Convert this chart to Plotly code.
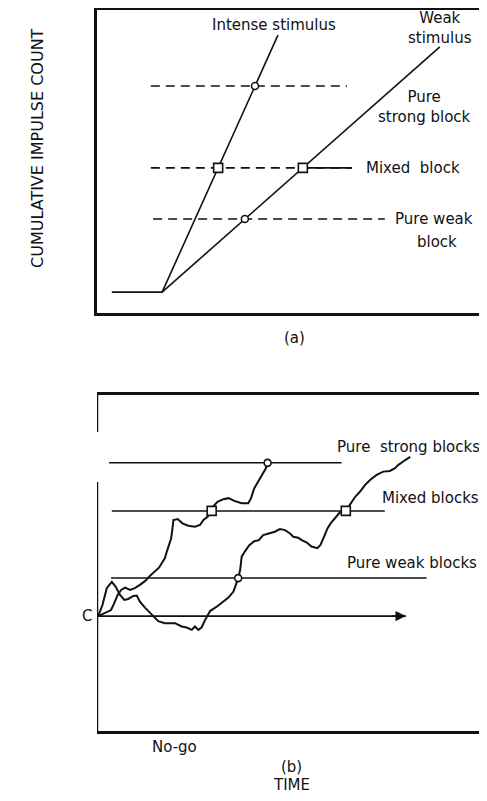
import numpy as np
import plotly.graph_objects as go

# ---- panel (a): idealised counters (time, count) ----
intense_x = [0.38, 1.67, 4.64]
intense_y = [0.69, 0.69, 9.17]
weak_x = [1.67, 8.79]
weak_y = [0.69, 8.78]

# pure strong, mixed, pure weak criterion levels and dashed extents
levels_a = [7.49, 4.79, 3.10]
starts_a = [1.38, 1.38, 1.44]
ends_a = [6.41, 6.54, 7.38]

# ---- panel (b): noisy counters ----
c_level = 3.42
arrow_end = 7.92
levels_b = [7.98, 6.55, 4.55]
starts_b = [0.31, 0.38, 0.36]
ends_b = [6.27, 7.38, 8.45]

fast_x = [0.03, 0.21, 0.36, 0.44, 0.53, 0.62, 0.72, 0.85, 0.97, 1.10, 1.23, 1.36, 1.49,
          1.59, 1.66, 1.74, 1.79, 1.85, 1.90, 1.93, 1.96, 2.07, 2.19, 2.34, 2.51, 2.64,
          2.73, 2.84, 2.94, 3.00, 3.09, 3.24, 3.37, 3.52, 3.71, 3.88, 3.95, 4.03, 4.14,
          4.25, 4.33, 4.38]
fast_y = [3.42, 3.53, 3.60, 3.80, 4.05, 4.20, 4.27, 4.20, 4.25, 4.35, 4.46, 4.62, 4.74,
          4.86, 4.99, 5.14, 5.34, 5.54, 5.73, 5.98, 6.28, 6.31, 6.18, 6.11, 6.08, 6.13,
          6.28, 6.38, 6.55, 6.71, 6.82, 6.90, 6.93, 6.85, 6.78, 6.78, 6.93, 7.22, 7.44,
          7.62, 7.82, 8.00]

slow_x = [0.03, 0.14, 0.25, 0.38, 0.48, 0.59, 0.70, 0.80, 0.93, 1.02, 1.10, 1.23, 1.40,
          1.57, 1.74, 2.00, 2.17, 2.30, 2.43, 2.51, 2.60, 2.68, 2.77, 2.90, 3.07, 3.24,
          3.37, 3.50, 3.58, 3.62, 3.67, 3.71, 3.79, 3.90, 4.03, 4.15, 4.26, 4.39, 4.56,
          4.69, 4.82, 4.95, 5.03, 5.16, 5.25, 5.38, 5.50, 5.65, 5.73, 5.82, 5.91, 5.99,
          6.10, 6.23, 6.38, 6.49, 6.62, 6.74, 6.87, 7.00, 7.17, 7.34, 7.51, 7.64, 7.73,
          7.85, 8.03]
slow_y = [3.42, 3.75, 4.25, 4.44, 4.29, 4.05, 3.90, 3.93, 4.02, 4.03, 3.85, 3.67, 3.47,
          3.27, 3.21, 3.21, 3.11, 3.08, 3.01, 3.11, 3.01, 3.08, 3.30, 3.57, 3.70, 3.85,
          3.97, 4.15, 4.40, 4.55, 4.79, 5.19, 5.34, 5.52, 5.65, 5.68, 5.83, 5.88, 5.93,
          6.01, 5.98, 5.88, 5.78, 5.75, 5.68, 5.61, 5.49, 5.44, 5.54, 5.78, 6.03, 6.18,
          6.33, 6.51, 6.55, 6.73, 6.97, 7.12, 7.32, 7.47, 7.62, 7.72, 7.74, 7.82, 7.92,
          8.02, 8.16]


def crossing(xs, ys, level):
    # first time the counter reaches the level
    for i in range(1, len(xs)):
        if ys[i] >= level > ys[i - 1]:
            f = (level - ys[i - 1]) / (ys[i] - ys[i - 1])
            return xs[i - 1] + f * (xs[i] - xs[i - 1])
    return xs[-1]


FONT = 'DejaVu Sans'
INK = '#111111'
# page body keeps an 8px margin, so the figure is drawn slightly smaller
OFF = 8
W, H = 487 - 2 * OFF, 801 - 2 * OFF


def px(x):
    return (x - OFF) / W


def py(y):
    return 1 - (y - OFF) / H


fig = go.Figure()


def line(x, y, xa, ya, width=1.6, dash='solid'):
    fig.add_trace(go.Scatter(x=x, y=y, mode='lines', xaxis=xa, yaxis=ya, cliponaxis=False,
                             line=dict(color=INK, width=width, dash=dash),
                             showlegend=False, hoverinfo='skip'))


def marks(x, y, symbol, size, xa, ya):
    fig.add_trace(go.Scatter(x=x, y=y, mode='markers', xaxis=xa, yaxis=ya, cliponaxis=False,
                             marker=dict(symbol=symbol, size=size, color='white',
                                         line=dict(color=INK, width=1.6)),
                             showlegend=False, hoverinfo='skip'))


# panel (a)
for lv, s, e in zip(levels_a, starts_a, ends_a):
    line([s, e], [lv, lv], 'x', 'y', width=1.6, dash='9px,6px')
weak_cross_mixed = float(np.interp(levels_a[1], weak_y, weak_x))
line([weak_cross_mixed, ends_a[1]], [levels_a[1], levels_a[1]], 'x', 'y', width=1.6)
line(intense_x, intense_y, 'x', 'y', width=1.6)
line(weak_x, weak_y, 'x', 'y', width=1.6)

marks([crossing(intense_x, intense_y, levels_a[0]), crossing(weak_x, weak_y, levels_a[2])],
      [levels_a[0], levels_a[2]], 'circle', 7, 'x', 'y')
marks([crossing(intense_x, intense_y, levels_a[1]), weak_cross_mixed],
      [levels_a[1], levels_a[1]], 'square', 9, 'x', 'y')

# panel (b)
for lv, s, e in zip(levels_b, starts_b, ends_b):
    line([s, e], [lv, lv], 'x2', 'y2', width=1.5)
line([0, arrow_end], [c_level, c_level], 'x2', 'y2', width=1.6)
line(fast_x, fast_y, 'x2', 'y2', width=2)
line(slow_x, slow_y, 'x2', 'y2', width=2)

marks([crossing(fast_x, fast_y, levels_b[0]), crossing(slow_x, slow_y, levels_b[2])],
      [levels_b[0], levels_b[2]], 'circle', 7, 'x2', 'y2')
marks([crossing(fast_x, fast_y, levels_b[1]), crossing(slow_x, slow_y, levels_b[1])],
      [levels_b[1], levels_b[1]], 'square', 9, 'x2', 'y2')


def label(text, x, y, xref, yref, xanchor='center', size=15, angle=0):
    fig.add_annotation(text=text, x=x, y=y, xref=xref, yref=yref, showarrow=False,
                       xanchor=xanchor, yanchor='middle', textangle=angle,
                       font=dict(family=FONT, size=size, color=INK))


nb = '\u00a0'
# panel (a) labels
label('Intense stimulus', 4.54, 9.50, 'x', 'y')
label('Weak<br>stimulus', 8.79, 9.40, 'x', 'y')
label('Pure<br>strong block', 8.40, 6.80, 'x', 'y')
label('Mixed' + nb * 2 + 'block', 6.85, 4.79, 'x', 'y', xanchor='left')
label('Pure' + nb + 'weak', 8.64, 3.10, 'x', 'y')
label('block', 8.72, 2.34, 'x', 'y')
label('(a)', px(294), py(338), 'paper', 'paper')

# panel (b) labels
label('Pure' + nb * 2 + 'strong blocks', 6.10, 8.45, 'x2', 'y2', xanchor='left')
label('Mixed blocks', 7.26, 6.93, 'x2', 'y2', xanchor='left')
label('Pure weak blocks', 6.36, 5.00, 'x2', 'y2', xanchor='left')
label('C', px(87), py(616), 'paper', 'paper')
label('No-go', px(174), py(747), 'paper', 'paper')
label('(b)', px(291), py(767), 'paper', 'paper')
label('TIME', px(291), py(785), 'paper', 'paper')

label('CUMULATIVE IMPULSE COUNT', px(37.5), py(148.5), 'paper', 'paper', size=16, angle=-90)

# arrow on the C line
fig.add_annotation(x=arrow_end, y=c_level, ax=arrow_end - 0.4, ay=c_level, xref='x2', yref='y2',
                   axref='x2', ayref='y2', text='', showarrow=True, arrowhead=2,
                   arrowsize=1.3, arrowwidth=1.6, arrowcolor=INK, standoff=0)

# broken left border of panel (b)
for y0, y1 in [(0, 7.41), (8.90, 10)]:
    fig.add_shape(type='line', xref='x2', yref='y2', x0=0, x1=0, y0=y0, y1=y1,
                  line=dict(color=INK, width=2.5))

# 39 px per time unit across the visible width
xspan = (487 - OFF - 97) / 39
ax_common = dict(showgrid=False, zeroline=False, showticklabels=False, ticks='')
xdom = [px(97), 1]
fig.update_layout(
    width=W, height=H, autosize=False,
    margin=dict(l=0, r=0, t=0, b=0),
    paper_bgcolor='white', plot_bgcolor='white',
    xaxis=dict(domain=xdom, anchor='y', range=[0, xspan], showline=True, mirror=True,
               linewidth=2.5, linecolor=INK, **ax_common),
    yaxis=dict(domain=[py(313), py(10)], anchor='x', range=[0, 10], showline=True,
               mirror=False, linewidth=2.5, linecolor=INK, **ax_common),
    xaxis2=dict(domain=xdom, anchor='y2', range=[0, xspan], showline=True, mirror=True,
                linewidth=2.5, linecolor=INK, **ax_common),
    yaxis2=dict(domain=[py(731), py(395)], anchor='x2', range=[0, 10], showline=False,
                **ax_common),
)

fig.write_html("out.html")
